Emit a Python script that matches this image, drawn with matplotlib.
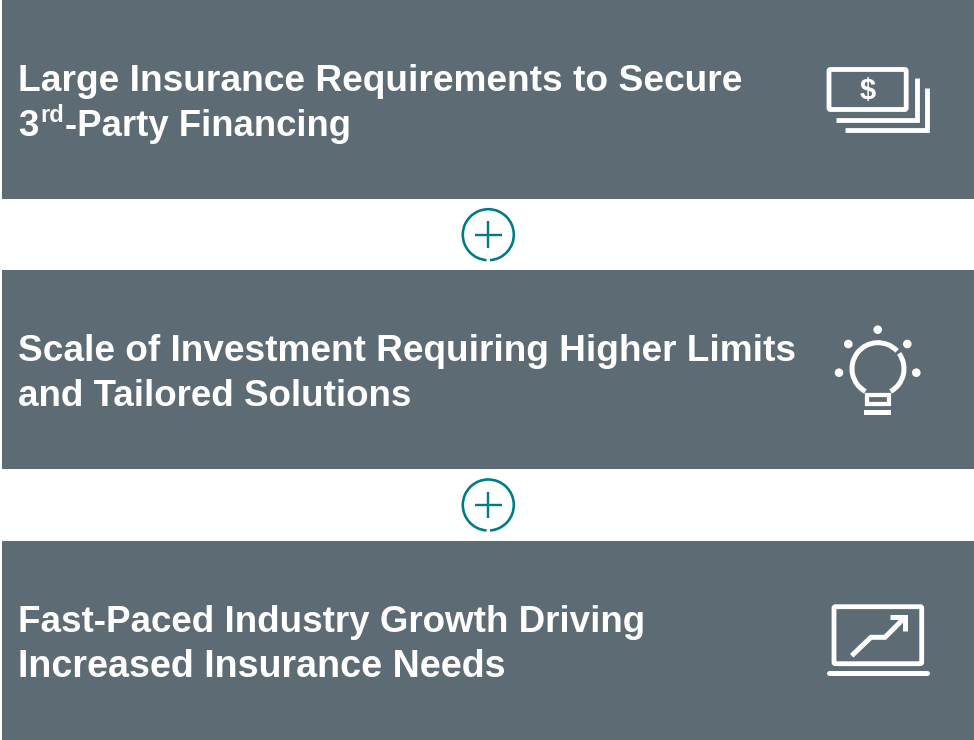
import matplotlib
matplotlib.use("Agg")
import matplotlib.pyplot as plt
from matplotlib.patches import Rectangle, Circle, Arc, FancyBboxPatch

# box text, line by line
line1 = ["Large Insurance Requirements to Secure", "Scale of Investment Requiring Higher Limits", "Fast-Paced Industry Growth Driving"]
line2 = ["-Party Financing", "and Tailored Solutions", "Increased Insurance Needs"]

box_top = [0, 270, 541]
plus_y = [234.7, 505]

# sizes per line, the font runs a little different from the original
size1 = [26.75, 26.65, 26.5]
size2 = [26.3, 26.5, 27.05]

BOX = "#5d6b75"
TEAL = "#007b85"
W = "white"
PX = 0.72  # one pixel in points

plt.rcParams['font.family'] = ['Liberation Sans', 'DejaVu Sans']

fig = plt.figure(figsize=(9.74, 7.4), dpi=100)
ax = fig.add_axes([0, 0, 1, 1])
ax.set_xlim(0, 974)
ax.set_ylim(740, 0)
ax.axis("off")


def line(xs, ys, width=4.8, cap="butt", join="miter"):
    ax.plot(xs, ys, color=W, lw=width * PX, solid_capstyle=cap, solid_joinstyle=join)


def money_icon():
    ax.add_patch(FancyBboxPatch((829, 69.5), 77.2, 40, boxstyle="round,pad=0,rounding_size=1.5",
                                fc="none", ec=W, lw=4.8 * PX))
    line([835.7, 917, 917], [120, 120, 78.3])
    line([845, 927, 927], [130, 130, 87.7])
    ax.text(867.5, 91, "$", color=W, fontsize=21, fontweight="bold", ha="center", va="center")


def bulb_icon():
    cx, cy = 878, 368.7
    # y axis is flipped, so these angles run clockwise on screen
    ax.add_patch(Arc((cx, cy), 52, 52, theta1=-36, theta2=61, color=W, lw=5 * PX))
    ax.add_patch(Arc((cx, cy), 52, 52, theta1=119, theta2=317, color=W, lw=5 * PX))
    ax.add_patch(Rectangle((866.7, 395), 21.8, 8.7, fc="none", ec=W, lw=4.2 * PX))
    ax.add_patch(Rectangle((864, 410), 27, 4.8, fc=W, ec="none"))
    for dx, dy in [(877.7, 329.7), (848.3, 344), (907.3, 344), (839, 372.7), (916.3, 372.7)]:
        ax.add_patch(Circle((dx, dy), 4.3, fc=W, ec="none"))


def laptop_icon():
    ax.add_patch(FancyBboxPatch((834, 606.7), 87.7, 57, boxstyle="round,pad=0,rounding_size=1.5",
                                fc="none", ec=W, lw=4.8 * PX))
    line([829, 927], [673.3, 673.3], width=5, cap="round")
    line([851.7, 871, 885, 904], [655.7, 637.3, 637.3, 618.3], width=5)
    line([890, 905, 905], [617.3, 617.3, 631], width=5)


for i, top in enumerate(box_top):
    ax.add_patch(Rectangle((2, top), 972, 199, fc=BOX, ec="none"))
    ax.text(18.5, top + 91, line1[i], color=W, fontsize=size1[i], fontweight="bold", va="baseline")
    if i == 0:
        t3 = ax.text(18.5, top + 136, "3", color=W, fontsize=size2[i], fontweight="bold", va="baseline")
        x = t3.get_window_extent(fig.canvas.get_renderer()).x1 + 1
        t_rd = ax.text(x, top + 122, "rd", color=W, fontsize=17, fontweight="bold", va="baseline")
        x = t_rd.get_window_extent(fig.canvas.get_renderer()).x1 + 1
        ax.text(x, top + 136, line2[i], color=W, fontsize=size2[i], fontweight="bold", va="baseline")
    else:
        ax.text(18.5, top + 136, line2[i], color=W, fontsize=size2[i], fontweight="bold", va="baseline")

for y in plus_y:
    ax.add_patch(Arc((488.3, y), 51, 51, theta1=94, theta2=446, color=TEAL, lw=2.6 * PX))
    ax.plot([475, 501.7], [y, y], color=TEAL, lw=2.4 * PX, solid_capstyle="butt")
    ax.plot([488.3, 488.3], [y - 13.3, y + 13.3], color=TEAL, lw=2.4 * PX, solid_capstyle="butt")

money_icon()
bulb_icon()
laptop_icon()

fig.savefig("out.png", dpi=100)
